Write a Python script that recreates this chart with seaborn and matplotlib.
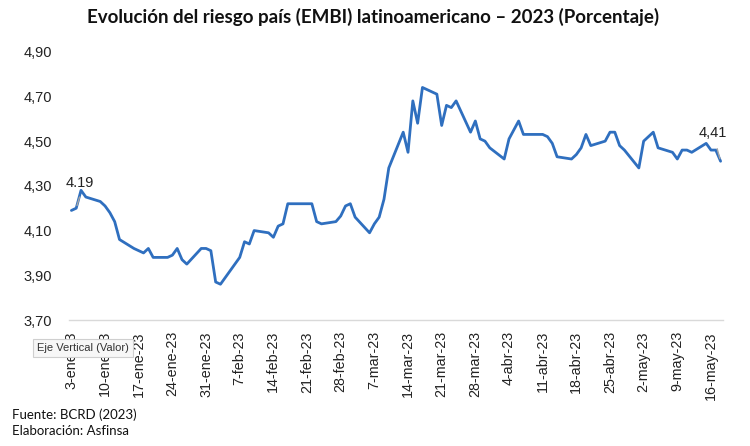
import seaborn as sns
import matplotlib.pyplot as plt
import matplotlib.dates as mdates
import matplotlib.ticker as mticker
import pandas as pd

# Fechas hábiles (2023) y valores del EMBI latinoamericano (%)
fechas = [
    "2023-01-03", "2023-01-04", "2023-01-05", "2023-01-06", "2023-01-09", "2023-01-10",
    "2023-01-11", "2023-01-12", "2023-01-13", "2023-01-16", "2023-01-17", "2023-01-18",
    "2023-01-19", "2023-01-20", "2023-01-23", "2023-01-24", "2023-01-25", "2023-01-26",
    "2023-01-27", "2023-01-30", "2023-01-31", "2023-02-01", "2023-02-02", "2023-02-03",
    "2023-02-06", "2023-02-07", "2023-02-08", "2023-02-09", "2023-02-10", "2023-02-13",
    "2023-02-14", "2023-02-15", "2023-02-16", "2023-02-17", "2023-02-20", "2023-02-21",
    "2023-02-22", "2023-02-23", "2023-02-24", "2023-02-27", "2023-02-28", "2023-03-01",
    "2023-03-02", "2023-03-03", "2023-03-06", "2023-03-07", "2023-03-08", "2023-03-09",
    "2023-03-10", "2023-03-13", "2023-03-14", "2023-03-15", "2023-03-16", "2023-03-17",
    "2023-03-20", "2023-03-21", "2023-03-22", "2023-03-23", "2023-03-24", "2023-03-27",
    "2023-03-28", "2023-03-29", "2023-03-30", "2023-03-31", "2023-04-03", "2023-04-04",
    "2023-04-05", "2023-04-06", "2023-04-07", "2023-04-10", "2023-04-11", "2023-04-12",
    "2023-04-13", "2023-04-14", "2023-04-17", "2023-04-18", "2023-04-19", "2023-04-20",
    "2023-04-21", "2023-04-24", "2023-04-25", "2023-04-26", "2023-04-27", "2023-04-28",
    "2023-05-01", "2023-05-02", "2023-05-03", "2023-05-04", "2023-05-05", "2023-05-08",
    "2023-05-09", "2023-05-10", "2023-05-11", "2023-05-12", "2023-05-15", "2023-05-16",
    "2023-05-17", "2023-05-18",
]
embi = [
    4.19, 4.20, 4.28, 4.25, 4.23, 4.21,
    4.18, 4.14, 4.06, 4.02, 4.01, 4.00,
    4.02, 3.98, 3.98, 3.99, 4.02, 3.97,
    3.95, 4.02, 4.02, 4.01, 3.87, 3.86,
    3.95, 3.98, 4.05, 4.04, 4.10, 4.09,
    4.07, 4.12, 4.13, 4.22, 4.22, 4.22,
    4.22, 4.14, 4.13, 4.14, 4.165, 4.21,
    4.22, 4.16, 4.09, 4.13, 4.16, 4.24,
    4.38, 4.54, 4.45, 4.68, 4.58, 4.74,
    4.71, 4.57, 4.66, 4.65, 4.68, 4.54,
    4.59, 4.51, 4.50, 4.47, 4.42, 4.51,
    4.55, 4.59, 4.53, 4.53, 4.53, 4.52,
    4.49, 4.43, 4.42, 4.44, 4.47, 4.53,
    4.48, 4.50, 4.54, 4.54, 4.48, 4.46,
    4.38, 4.50, 4.52, 4.54, 4.47, 4.45,
    4.42, 4.46, 4.46, 4.45, 4.49, 4.46,
    4.46, 4.41,
]
y_ticks = [3.70, 3.90, 4.10, 4.30, 4.50, 4.70, 4.90]
meses = {1: "ene", 2: "feb", 3: "mar", 4: "abr", 5: "may"}

df = pd.DataFrame({"fecha": pd.to_datetime(fechas), "embi": embi})

sns.set_style("white")
plt.rcParams["font.family"] = ["Liberation Sans", "DejaVu Sans"]

fig = plt.figure(figsize=(7.5, 4.46), dpi=100)
ax = fig.add_axes([0.092, 0.2825, 0.872, 0.6016])

sns.lineplot(data=df, x="fecha", y="embi", ax=ax, color="#2F6FBF", linewidth=2.0)

ax.set_ylim(3.70, 4.90)
ax.set_yticks(y_ticks)
ax.yaxis.set_major_formatter(mticker.FuncFormatter(lambda v, p: f"{v:.2f}".replace(".", ",")))
ax.set_xlim(df["fecha"].iloc[0] - pd.Timedelta(days=0.5), df["fecha"].iloc[-1] + pd.Timedelta(days=0.5))
ax.xaxis.set_major_locator(mdates.WeekdayLocator(byweekday=mdates.TU))
ax.xaxis.set_major_formatter(mticker.FuncFormatter(
    lambda v, p: (lambda d: f"{d.day}-{meses[d.month]}-{d:%y}")(mdates.num2date(v))))
ax.tick_params(axis="x", labelrotation=90, length=0, pad=8, labelsize=10.3, colors="#222222")
ax.tick_params(axis="y", length=0, pad=12, labelsize=10.5, colors="#222222")
ax.set_xlabel("")
ax.set_ylabel("")
for s in ["top", "right", "left"]:
    ax.spines[s].set_visible(False)
ax.spines["bottom"].set_color("#D9D9D9")
ax.spines["bottom"].set_linewidth(1)

# etiquetas de datos en primer y último punto
first, last = df.iloc[0], df.iloc[-1]
ax.annotate("4.19", xy=(first["fecha"], first["embi"]), xytext=(-4, 20), textcoords="offset points",
            fontsize=10.5, color="#222222", ha="left", va="center")
ax.annotate("", xy=(df["fecha"].iloc[1], df["embi"].iloc[1]), xytext=(3, 10), textcoords="offset points",
            arrowprops=dict(arrowstyle="-", color="#A6A6A6", lw=1))
ax.annotate("4,41", xy=(last["fecha"], last["embi"]), xytext=(-16, 20), textcoords="offset points",
            fontsize=10.5, color="#222222", ha="left", va="center")
ax.annotate("", xy=(last["fecha"], last["embi"]), xytext=(-3, 11), textcoords="offset points",
            arrowprops=dict(arrowstyle="-", color="#A6A6A6", lw=1))

fig.text(0.497, 0.962, "Evolución del riesgo país (EMBI) latinoamericano – 2023 (Porcentaje)",
         ha="center", va="center", fontsize=13.5, fontweight="bold", family="Lato", color="#111111")
fig.text(0.049, 0.219, "Eje Vertical (Valor)", fontsize=8, color="#333333", va="center",
         bbox=dict(boxstyle="square,pad=0.35", fc="#F7F7F7", ec="#CFCFCF", lw=0.8))
fig.text(0.016, 0.069, "Fuente: BCRD (2023)", fontsize=9.5, family="Lato", color="#111111", va="center")
fig.text(0.016, 0.033, "Elaboración: Asfinsa", fontsize=9.5, family="Lato", color="#111111", va="center")

fig.savefig("out.png", dpi=100)
